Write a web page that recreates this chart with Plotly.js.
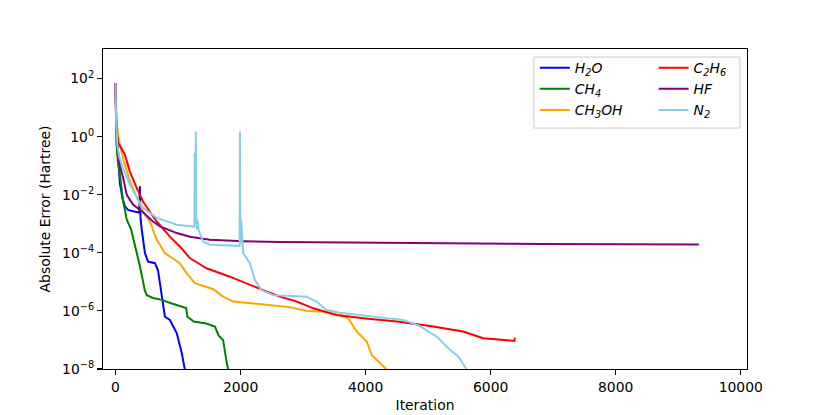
<!DOCTYPE html>
<html>
<head>
<meta charset="utf-8">
<script src="https://cdn.plot.ly/plotly-3.0.1.min.js"></script>
<style>html,body{margin:0;padding:0;background:#fff;}#chart{width:830px;height:415px;}</style>
</head>
<body>
<div id="chart"></div>
<script>
// Series names (legend labels)
const names = {
  H2O: "<i>H<sub>2</sub>O</i>",
  CH4: "<i>CH<sub>4</sub></i>",
  CH3OH: "<i>CH<sub>3</sub>OH</i>",
  C2H6: "<i>C<sub>2</sub>H<sub>6</sub></i>",
  HF: "<i>HF</i>",
  N2: "<i>N<sub>2</sub></i>"
};

// H2O
const iterH2O = [0, 10, 20, 50, 70, 110, 150, 200, 300, 380, 390, 400, 420, 470, 520, 630, 680, 740, 790, 870, 980, 1060, 1110, 1125];
const errH2O  = [70.8, 3.16, 5.0e-1, 1.26e-1, 2.5e-2, 7.9e-3, 4.0e-3, 3.0e-3, 2.6e-3, 2.4e-3, 1.95e-2, 1.6e-3, 6.3e-4, 1.0e-4, 5.0e-5, 4.4e-5, 2.5e-5, 3.2e-6, 6.3e-7, 4.9e-7, 1.7e-7, 3.5e-8, 1.0e-8, 6.3e-9];

// CH4
const iterCH4 = [0, 10, 20, 40, 70, 120, 180, 250, 310, 390, 470, 500, 600, 740, 900, 1060, 1130, 1150, 1250, 1450, 1590, 1650, 1720, 1780, 1810];
const errCH4  = [70.8, 2.0, 5.0e-1, 1.26e-1, 5.0e-2, 6.3e-3, 1.4e-3, 6.3e-4, 1.8e-4, 3.5e-5, 5.0e-6, 3.5e-6, 2.8e-6, 2.4e-6, 1.8e-6, 1.4e-6, 1.26e-6, 6.3e-7, 4.3e-7, 3.7e-7, 2.9e-7, 1.4e-7, 1.0e-7, 1.6e-8, 7.9e-9];

// CH3OH
const iterCH3OH = [0, 15, 60, 120, 230, 340, 440, 550, 580, 660, 790, 1029, 1136, 1269, 1562, 1722, 1882, 2362, 2789, 3056, 3320, 3560, 3720, 3860, 4020, 4100, 4230, 4330, 4350];
const errCH3OH  = [70.8, 3.16, 6.3e-1, 1.8e-1, 2.9e-2, 7.8e-3, 2.6e-3, 1.2e-3, 8.1e-4, 2.8e-4, 9.8e-5, 4.4e-5, 2.0e-5, 9.1e-6, 5.6e-6, 3.1e-6, 2.1e-6, 1.62e-6, 1.35e-6, 1.0e-6, 9.5e-7, 7.2e-7, 5.6e-7, 1.95e-7, 8.7e-8, 3.0e-8, 1.6e-8, 1.0e-8, 7.9e-9];

// C2H6
const iterC2H6 = [0, 10, 40, 70, 150, 230, 340, 440, 550, 660, 870, 1029, 1189, 1456, 1829, 2096, 2362, 2629, 2896, 3162, 3536, 3960, 4500, 5030, 5560, 5880, 6360, 6380, 6390];
const errC2H6  = [70.8, 2.0, 6.3e-1, 5.0e-1, 2.4e-1, 6.3e-2, 1.7e-2, 5.9e-3, 2.6e-3, 1.2e-3, 3.6e-4, 1.66e-4, 6.6e-5, 2.95e-5, 1.51e-5, 9.1e-6, 5.2e-6, 3.1e-6, 2.1e-6, 1.23e-6, 7.2e-7, 5.6e-7, 4.3e-7, 3.0e-7, 1.95e-7, 1.15e-7, 9.3e-8, 9.3e-8, 1.2e-7];

// HF
const iterHF = [0, 10, 40, 70, 120, 180, 280, 440, 600, 710, 980, 1190, 1510, 2040, 2630, 3500, 4760, 6790, 9330];
const errHF  = [70.8, 3.16, 3.16e-1, 1.0e-1, 4.0e-2, 1.0e-2, 4.6e-3, 2.5e-3, 1.2e-3, 8.1e-4, 4.8e-4, 3.6e-4, 2.8e-4, 2.5e-4, 2.35e-4, 2.24e-4, 2.19e-4, 2.0e-4, 1.95e-4];

// N2
const iterN2 = [0, 10, 30, 60, 120, 230, 440, 660, 980, 1240, 1262, 1266, 1272, 1285, 1290, 1296, 1305, 1315, 1330, 1349, 1402, 1509, 1985, 1990, 1996, 2010, 2030, 2042, 2149, 2229, 2336, 2522, 3056, 3216, 3376, 3589, 4229, 4602, 4869, 5136, 5349, 5482, 5589, 5630];
const errN2  = [70.8, 3.16, 5.0e-1, 2.0e-1, 8.3e-2, 2.2e-2, 3.5e-3, 1.6e-3, 9.3e-4, 8.1e-4, 7.9e-4, 2.75e-1, 1.0e-3, 1.5, 1.0e-3, 1.8e-3, 6.3e-4, 1.26e-3, 6.0e-4, 4.8e-4, 2.45e-4, 1.9e-4, 1.74e-4, 1.5, 2.0e-4, 1.4e-3, 1.26e-4, 9.8e-5, 4.4e-5, 1.17e-5, 5.2e-6, 3.5e-6, 3.1e-6, 2.1e-6, 1.07e-6, 8.7e-7, 6.0e-7, 4.9e-7, 3.0e-7, 1.3e-7, 4.6e-8, 2.7e-8, 1.2e-8, 8.9e-9];

// Tick labels
const xTickVals = [0, 2000, 4000, 6000, 8000, 10000];
const yTickVals = [1e-8, 1e-6, 1e-4, 1e-2, 1, 1e2];
const yTickText = ["10<sup>\u22128</sup>", "10<sup>\u22126</sup>", "10<sup>\u22124</sup>", "10<sup>\u22122</sup>", "10<sup>0</sup>", "10<sup>2</sup>"];

const colors = {H2O: "#0000ff", CH4: "#008000", CH3OH: "#ffa500", C2H6: "#ff0000", HF: "#800080", N2: "#87ceeb"};

function tr(x, y, key, leg) {
  return {x: x, y: y, name: names[key], type: "scatter", mode: "lines",
          legend: leg, line: {color: colors[key], width: 2}};
}

const data = [
  tr(iterH2O, errH2O, "H2O", "legend"),
  tr(iterCH4, errCH4, "CH4", "legend"),
  tr(iterCH3OH, errCH3OH, "CH3OH", "legend"),
  tr(iterC2H6, errC2H6, "C2H6", "legend2"),
  tr(iterHF, errHF, "HF", "legend2"),
  tr(iterN2, errN2, "N2", "legend2")
];

const font = {family: "DejaVu Sans, sans-serif", size: 13.9, color: "#000"};
const legFont = {family: "DejaVu Sans, sans-serif", size: 13.9, color: "#000"};

const layout = {
  width: 830, height: 415,
  margin: {l: 103, r: 83, t: 49, b: 46},
  paper_bgcolor: "#fff", plot_bgcolor: "#fff",
  font: font,
  showlegend: true,
  xaxis: {
    range: [-200, 10100],
    tickvals: xTickVals, ticktext: xTickVals.map(String),
    ticks: "outside", ticklen: 5, tickwidth: 1.1, tickcolor: "#000",
    showline: true, linecolor: "#000", linewidth: 1.1, mirror: true,
    showgrid: false, zeroline: false,
    title: {text: "Iteration", font: font, standoff: 6}
  },
  yaxis: {
    type: "log",
    range: [-8, 3.02],
    tickvals: yTickVals, ticktext: yTickText,
    ticks: "outside", ticklen: 5, tickwidth: 1.1, tickcolor: "#000",
    showline: true, linecolor: "#000", linewidth: 1.1, mirror: true,
    showgrid: false, zeroline: false,
    title: {text: "Absolute Error (Hartree)", font: font, standoff: 8}
  },
  shapes: [{
    type: "rect", xref: "paper", yref: "paper",
    x0: 0.669, x1: 0.989, y0: 0.753, y1: 0.975,
    line: {color: "#cccccc", width: 1}, fillcolor: "rgba(255,255,255,0.8)", layer: "above"
  }],
  legend: {
    x: 0.6705, y: 0.99, xanchor: "left", yanchor: "top",
    orientation: "v", bgcolor: "rgba(0,0,0,0)", borderwidth: 0,
    font: legFont, itemwidth: 30, traceorder: "normal"
  },
  legend2: {
    x: 0.855, y: 0.99, xanchor: "left", yanchor: "top",
    orientation: "v", bgcolor: "rgba(0,0,0,0)", borderwidth: 0,
    font: legFont, itemwidth: 30, traceorder: "normal"
  }
};

Plotly.newPlot("chart", data, layout, {staticPlot: true, displayModeBar: false});
</script>
</body>
</html>
